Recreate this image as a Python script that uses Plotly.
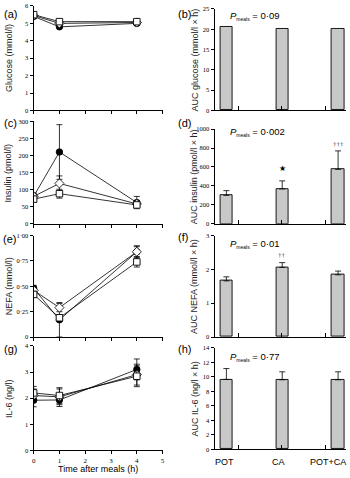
import plotly.graph_objects as go

# ---------------- data ----------------
time_h = [0, 1, 4]

# open square = POT, open diamond = CA, filled circle = POT+CA
glucose_pot = [5.5, 5.1, 5.1]
glucose_ca = [5.45, 5.0, 5.05]
glucose_potca = [5.4, 4.8, 5.0]
glucose_pot_err = [0.08, 0.06, 0.06]
glucose_ca_err = [0.08, 0.06, 0.06]
glucose_potca_err = [0.08, 0.06, 0.06]

insulin_pot = [72, 88, 55]
insulin_ca = [80, 118, 58]
insulin_potca = [80, 210, 62]
insulin_pot_err = [8, 13, 6]
insulin_ca_err = [8, 22, 8]
insulin_potca_err = [10, 80, 18]

nefa_pot = [0.42, 0.19, 0.74]
nefa_ca = [0.46, 0.29, 0.84]
nefa_potca = [0.48, 0.17, 0.84]
nefa_pot_err = [0.03, 0.03, 0.05]
nefa_ca_err = [0.03, 0.04, 0.05]
nefa_potca_err = [0.03, 0.17, 0.06]

il6_pot = [2.2, 2.1, 2.84]
il6_ca = [2.1, 2.05, 2.9]
il6_potca = [1.92, 1.93, 3.1]
il6_pot_err = [0.25, 0.3, 0.4]
il6_ca_err = [0.25, 0.3, 0.4]
il6_potca_err = [0.25, 0.25, 0.4]

categories = ["POT", "CA", "POT+CA"]
auc_glucose = [20.6, 20.1, 20.0]
auc_glucose_err = [0, 0, 0]
auc_insulin = [300, 368, 575]
auc_insulin_err = [50, 85, 195]
auc_nefa = [1.66, 2.06, 1.84]
auc_nefa_err = [0.12, 0.14, 0.11]
auc_il6 = [9.65, 9.6, 9.6]
auc_il6_err = [1.5, 1.1, 1.1]

p_values = ["0·09", "0·002", "0·01", "0·77"]
panel_letters = ["(a)", "(b)", "(c)", "(d)", "(e)", "(f)", "(g)", "(h)"]
left_titles = ["Glucose (mmol/l)", "Insulin (pmol/l)", "NEFA (mmol/l)", "IL-6 (ng/l)"]
right_titles = ["AUC glucose (mmol/l × h)", "AUC insulin (pmol/l × h)",
                "AUC NEFA (mmol/l × h)", "AUC IL-6 (ng/l × h)"]
left_ticks = [
    ([0, 1, 2, 3, 4, 5, 6], ["0", "1", "2", "3", "4", "5", "6"]),
    ([0, 50, 100, 150, 200, 250, 300], ["0", "50", "100", "150", "200", "250", "300"]),
    ([0, 0.25, 0.5, 0.75, 1.0], ["0", "0·25", "0·50", "0·75", "1·00"]),
    ([0, 1, 2, 3, 4], ["0", "1", "2", "3", "4"]),
]
right_ticks = [
    ([0, 5, 10, 15, 20, 25], ["0", "5", "10", "15", "20", "25"]),
    ([0, 200, 400, 600, 800, 1000], ["0", "200", "400", "600", "800", "1000"]),
    ([0, 1, 2, 3], ["0", "1", "2", "3"]),
    ([0, 2, 4, 6, 8, 10, 12, 14], ["0", "2", "4", "6", "8", "10", "12", "14"]),
]
x_ticks = [0, 1, 2, 3, 4, 5]

# ---------------- layout helpers ----------------
W, H = 350, 478


def py(p):
    return 1 - p / H


def px(p):
    return p / W


left_dom_x = [px(32), px(163)]
right_dom_x = [px(215), px(348)]
left_dom_y = [(2, 108), (119, 223), (235, 338), (347, 453)]
right_dom_y = [(5, 108), (127, 223), (235, 338), (349, 452)]

SERIF = "Liberation Serif"
SANS = "Liberation Sans"
BAR_FILL = "#c8c8c8"

fig = go.Figure()

left_sets = [
    (glucose_pot, glucose_pot_err, glucose_ca, glucose_ca_err, glucose_potca, glucose_potca_err),
    (insulin_pot, insulin_pot_err, insulin_ca, insulin_ca_err, insulin_potca, insulin_potca_err),
    (nefa_pot, nefa_pot_err, nefa_ca, nefa_ca_err, nefa_potca, nefa_potca_err),
    (il6_pot, il6_pot_err, il6_ca, il6_ca_err, il6_potca, il6_potca_err),
]
right_sets = [
    (auc_glucose, auc_glucose_err),
    (auc_insulin, auc_insulin_err),
    (auc_nefa, auc_nefa_err),
    (auc_il6, auc_il6_err),
]

bar_x = [0, 1, 2]
x_right_range = [-0.212, 2.142]

for i in range(4):
    li = 2 * i + 1
    ri = 2 * i + 2
    lx, ly = ("x" if li == 1 else f"x{li}"), ("y" if li == 1 else f"y{li}")
    rx, ry = f"x{ri}", f"y{ri}"
    pot, pot_e, ca, ca_e, pc, pc_e = left_sets[i]
    # filled circle (POT+CA)
    fig.add_trace(go.Scatter(
        x=time_h, y=pc, xaxis=lx, yaxis=ly, mode="lines+markers", name="POT+CA",
        line=dict(color="black", width=0.8),
        marker=dict(symbol="circle", size=6.5, color="black", line=dict(color="black", width=0.8)),
        error_y=dict(type="data", array=pc_e, color="black", thickness=0.8, width=3),
        showlegend=False))
    # open diamond (CA)
    fig.add_trace(go.Scatter(
        x=time_h, y=ca, xaxis=lx, yaxis=ly, mode="lines+markers", name="CA",
        line=dict(color="black", width=0.8),
        marker=dict(symbol="diamond", size=7, color="white", line=dict(color="black", width=0.8)),
        error_y=dict(type="data", array=ca_e, color="black", thickness=0.8, width=3),
        showlegend=False))
    # open square (POT)
    fig.add_trace(go.Scatter(
        x=time_h, y=pot, xaxis=lx, yaxis=ly, mode="lines+markers", name="POT",
        line=dict(color="black", width=0.8),
        marker=dict(symbol="square", size=6.5, color="white", line=dict(color="black", width=0.9)),
        error_y=dict(type="data", array=pot_e, color="black", thickness=0.8, width=3),
        showlegend=False))

    vals, errs = right_sets[i]
    fig.add_trace(go.Bar(
        x=bar_x, y=vals, xaxis=rx, yaxis=ry, width=0.22,
        marker=dict(color=BAR_FILL, line=dict(color="black", width=0.9)),
        error_y=dict(type="data", symmetric=False, array=errs, arrayminus=[0] * len(errs),
                     color="black", thickness=0.8, width=3, visible=any(e > 0 for e in errs)),
        showlegend=False))

    tv, tt = left_ticks[i]
    tvr, ttr = right_ticks[i]
    common_axis = dict(showline=True, linecolor="black", linewidth=1, showgrid=False,
                       zeroline=False, ticks="outside", ticklen=3, tickcolor="black",
                       tickwidth=1, fixedrange=True)
    fig.update_layout({
        ("xaxis" if li == 1 else f"xaxis{li}"): dict(
            common_axis, domain=left_dom_x, anchor=ly, range=[0, 5.02],
            tickvals=x_ticks, ticktext=[str(v) for v in x_ticks],
            showticklabels=(i == 3), tickfont=dict(family=SERIF, size=7, color="black")),
        ("yaxis" if li == 1 else f"yaxis{li}"): dict(
            common_axis, domain=[py(left_dom_y[i][1]), py(left_dom_y[i][0])], anchor=lx,
            range=[0, tv[-1]], tickvals=tv, ticktext=tt,
            tickfont=dict(family=SERIF, size=6.5, color="black")),
        f"xaxis{ri}": dict(
            common_axis, domain=right_dom_x, anchor=ry, range=x_right_range,
            tickvals=[0.21, 0.99, 1.77], ticks="inside", ticklen=4,
            showticklabels=False),
        f"yaxis{ri}": dict(
            common_axis, domain=[py(right_dom_y[i][1]), py(right_dom_y[i][0])], anchor=rx,
            range=[0, tvr[-1]], tickvals=tvr, ticktext=ttr,
            tickfont=dict(family=SERIF, size=6.5, color="black")),
    })

annotations = []
# panel letters
label_pos = [(0, 10), (176, 10), (0, 121), (176, 121), (-1, 238), (176, 236), (0, 350), (176, 350)]
for lab, (lx_, ly_) in zip(panel_letters, label_pos):
    annotations.append(dict(text=lab, x=px(lx_), y=py(ly_), xref="paper", yref="paper",
                            xanchor="left", yanchor="middle", showarrow=False,
                            font=dict(family=SANS, size=11, color="black")))
# y titles
for i in range(4):
    cy = (left_dom_y[i][0] + left_dom_y[i][1]) / 2
    annotations.append(dict(text=left_titles[i], x=px(7), y=py(cy), xref="paper", yref="paper",
                            textangle=-90, showarrow=False, xanchor="center", yanchor="middle",
                            font=dict(family=SANS, size=9, color="#222")))
    cyr = (right_dom_y[i][0] + right_dom_y[i][1]) / 2
    annotations.append(dict(text=right_titles[i], x=px(195), y=py(cyr), xref="paper", yref="paper",
                            textangle=-90, showarrow=False, xanchor="center", yanchor="middle",
                            font=dict(family=SANS, size=9, color="#222")))
# P values
p_y = [12, 130, 244, 358]
for i in range(4):
    annotations.append(dict(
        text=f"<i>P</i><sub><span style='font-size:5px'>meals</span></sub> = {p_values[i]}",
        x=px(229), y=py(p_y[i]), xref="paper", yref="paper", xanchor="left", yanchor="middle",
        showarrow=False, font=dict(family=SANS, size=9.5, color="black")))
# significance marks
annotations.append(dict(text="★", x=1, y=auc_insulin[1] + auc_insulin_err[1], xref="x4", yref="y4",
                        yanchor="bottom", yshift=6, showarrow=False,
                        font=dict(family="DejaVu Sans", size=8, color="black")))
annotations.append(dict(text="†††", x=2, y=auc_insulin[2] + auc_insulin_err[2], xref="x4", yref="y4",
                        yanchor="bottom", yshift=1, showarrow=False,
                        font=dict(family=SERIF, size=7, color="#444")))
annotations.append(dict(text="††", x=1, y=auc_nefa[1] + auc_nefa_err[1], xref="x6", yref="y6",
                        yanchor="bottom", yshift=2, showarrow=False,
                        font=dict(family=SERIF, size=7, color="#444")))
# category labels
cat_px = [225, 280, 330]
for c, cx in zip(categories, cat_px):
    annotations.append(dict(text=c, x=px(cx), y=py(465), xref="paper", yref="paper",
                            xanchor="center", yanchor="middle", showarrow=False,
                            font=dict(family=SANS, size=9, color="black")))
# x title
annotations.append(dict(text="Time after meals (h)", x=px(97.5), y=py(472), xref="paper", yref="paper",
                        xanchor="center", yanchor="middle", showarrow=False,
                        font=dict(family=SANS, size=9, color="black")))

fig.update_layout(
    width=W, height=H, margin=dict(l=0, r=0, t=0, b=0),
    paper_bgcolor="white", plot_bgcolor="white",
    annotations=annotations, bargap=0,
)

fig.write_html("out.html", config={"displayModeBar": False},
               post_script="document.body.style.margin='0';document.body.style.overflow='hidden';")
